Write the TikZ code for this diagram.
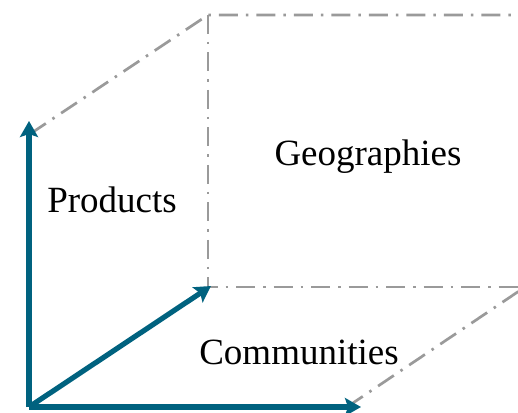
\documentclass[tikz,border=0pt]{standalone}
\usepackage{fontspec}
\setmainfont{Liberation Serif}
\usetikzlibrary{arrows.meta}
\definecolor{axisteal}{HTML}{00627F}
\definecolor{boxgray}{HTML}{9A9A9A}
\tikzset{
	axis/.style={line width=5.2pt, draw=axisteal, -{Stealth[length=16pt,width=18pt,inset=3pt]}},
	cube/.style={line width=2.7pt, draw=boxgray, dash pattern=on 19pt off 8pt on 2.5pt off 8pt},
	lbl/.style={font=\fontsize{37}{44}\selectfont}
}

\begin{document}
\begin{tikzpicture}[x=1pt,y=1pt]
\useasboundingbox (0,0) rectangle (518,412);
\clip (0,0) rectangle (518,412);
\coordinate (o) at (29,5);
\coordinate (up) at (29,291);
\coordinate (right) at (361,5);
\coordinate (depth) at (211,126);
\coordinate (back) at (208,125);
\coordinate (top) at (208,397);
\coordinate (topend) at (530,397);
\coordinate (backend) at (530,125);
\coordinate (farend) at (528,127);
\coordinate (upend) at (30,278);
\coordinate (rightend) at (347,5);
% dash-dot box
\draw[cube] (upend) -- (top) -- (topend);
\draw[cube] (top) -- (back) -- (backend);
\draw[cube] (rightend) -- (farend);
% axes
\draw[axis] (o) -- (up);
\draw[axis] (o) -- (right);
\draw[axis] (o) -- (depth);
\node[lbl] (products) at (112,212) {Products};
\node[lbl] (geo) at (368,255) {Geographies};
\node[lbl] (comm) at (299,60) {Communities};
\end{tikzpicture}
\end{document}
